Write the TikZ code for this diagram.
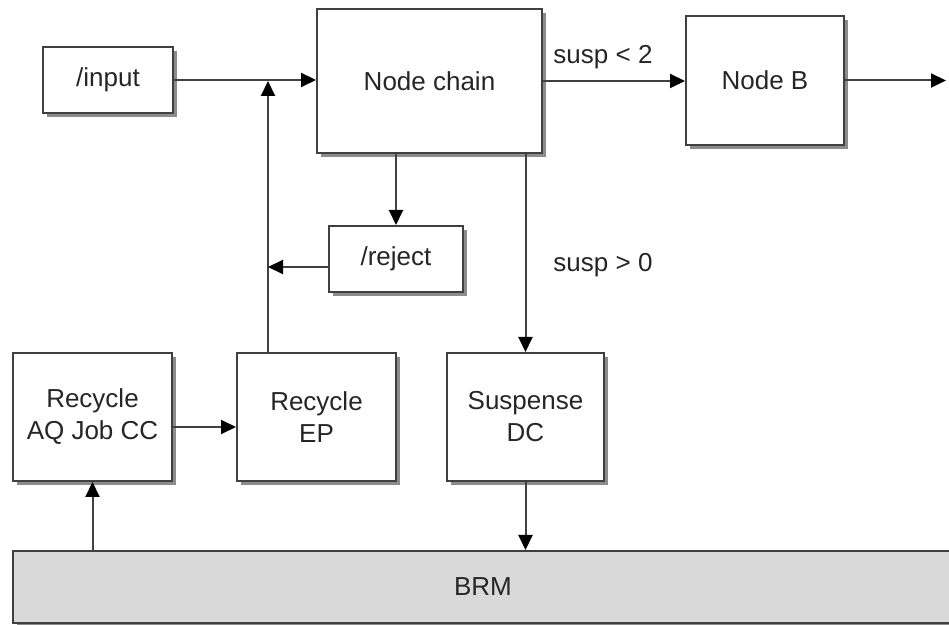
\documentclass[tikz,border=0pt]{standalone}
\usepackage{fontspec}
\setmainfont{Liberation Sans}
\usetikzlibrary{positioning, arrows.meta, shadows}
\tikzset{thick, >={Triangle[length=7.5pt,width=7pt,color=black]}, x=0.5pt, y=-0.5pt}
\tikzstyle{block}=[draw=black!75, line width=1pt, fill=white, align=center, inner sep=0pt, text=black!85, font=\fontsize{13}{16}\selectfont, drop shadow={shadow xshift=2pt, shadow yshift=-2pt, fill=black!45, opacity=1}]
\tikzstyle{cond}=[text=black!85, font=\fontsize{13}{16}\selectfont]
\tikzstyle{link}=[draw=black!75, line width=1pt, ->]

\begin{document}
\begin{tikzpicture}
\useasboundingbox (0,0) rectangle (949,625);
\node[block, minimum width=65pt, minimum height=33pt] (input) at (108,80) {/input};
\node[block, minimum width=112.5pt, minimum height=72pt] (chain) at (429.5,81) {Node chain};
\node[block, minimum width=79pt, minimum height=64.5pt] (nodeB) at (765,80.5) {Node B};
\node[block, minimum width=67pt, minimum height=33pt] (reject) at (396,259) {/reject};
\node[block, minimum width=79.5pt, minimum height=64pt] (recycleAQ) at (92.5,417) {Recycle\\AQ Job CC};
\node[block, minimum width=79.5pt, minimum height=64pt] (recycleEP) at (316.5,417) {Recycle\\EP};
\node[block, minimum width=78.5pt, minimum height=64pt] (suspense) at (525.5,417) {Suspense\\DC};
\node[block, minimum width=470pt, minimum height=36pt, fill=black!15] (brm) at (483,587) {BRM};
\node[cond] (lessText) at (603,57) {susp < 2};
\node[cond] (greaterText) at (603,265) {susp > 0};
\coordinate (join) at (268,81);
\draw[link] (input.east) -- (input.east -| chain.west);
\draw[link] (recycleEP.north -| join) -- (join);
\draw[link] ([yshift=-4pt]reject.west) -- ([yshift=-4pt]reject.west -| join);
\draw[link] (reject.north |- chain.south) -- (reject.north);
\draw[link] (chain.east) -- (chain.east -| nodeB.west);
\draw[link] (nodeB.east) -- ++(101,0) coordinate (outB);
\draw[link] (chain.south -| suspense.north) -- (suspense.north);
\draw[link] (suspense.south) -- (suspense.south |- brm.north);
\draw[link] (recycleAQ.south |- brm.north) -- (recycleAQ.south);
\draw[link] ([yshift=-5pt]recycleAQ.east) -- ([yshift=-5pt]recycleAQ.east -| recycleEP.west);
\end{tikzpicture}
\end{document}
